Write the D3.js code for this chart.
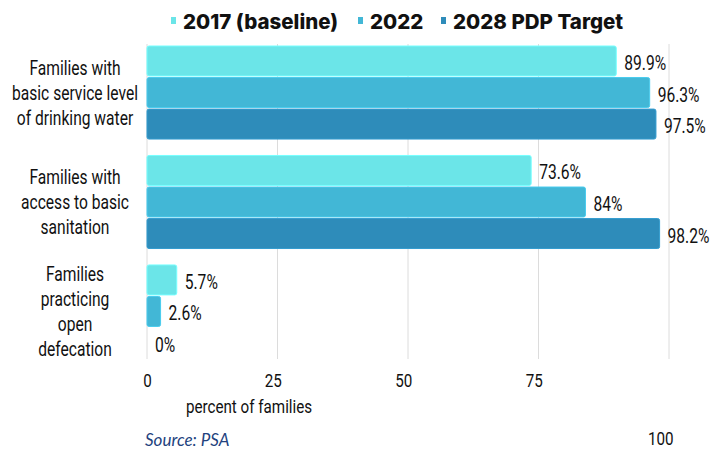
<!DOCTYPE html>
<html lang="en">
<head>
<meta charset="UTF-8">
<script src="https://d3js.org/d3.v7.min.js"></script>
<style>
  body { margin: 0; background: #fff; }
  svg text { fill: #111; }
  .cond { font-family: Roboto, "Liberation Sans", sans-serif; font-weight: 400; }
  .legend text { font-family: Inter, "Noto Sans", sans-serif; font-weight: 800; font-size: 20.5px; }
</style>
</head>
<body>
<svg id="chart" width="726" height="450"></svg>
<script>
  // data
  var categories = [
    ["Families with", "basic service level", "of drinking water"],
    ["Families with", "access to basic", "sanitation"],
    ["Families", "practicing", "open", "defecation"]
  ];
  var seriesNames = ["2017 (baseline)", "2022", "2028 PDP Target"];
  var v2017 = [89.9, 73.6, 5.7];
  var v2022 = [96.3, 84, 2.6];
  var v2028 = [97.5, 98.2, 0];
  var xTicks = [0, 25, 50, 75, 100];

  var colors = ["#6be5e8", "#42b7d6", "#2e8cba"];
  var values = [v2017, v2022, v2028];
  var squeeze = 0.8; // condensed look

  var svg = d3.select("#chart");

  var x = d3.scaleLinear().domain([0, 100]).range([147, 669]);
  var y0 = d3.scaleBand().domain(d3.range(categories.length)).range([46, 358]).paddingInner(0.15).paddingOuter(0);
  var y1 = d3.scaleBand().domain(d3.range(seriesNames.length)).range([0, y0.bandwidth()]).paddingInner(0.05);

  // narrow text helper
  function condText(parent, px, py, txt, size, anchor) {
    return parent.append("text")
      .attr("class", "cond")
      .attr("transform", "translate(" + px + "," + py + ") scale(" + squeeze + ",1)")
      .attr("font-size", size + "px")
      .attr("text-anchor", anchor || "start")
      .text(txt);
  }

  // gridlines
  svg.append("g").selectAll("line").data(xTicks).enter().append("line")
    .attr("x1", function(d) { return x(d); })
    .attr("x2", function(d) { return x(d); })
    .attr("y1", 44).attr("y2", 359)
    .attr("stroke", "#dcdcdc").attr("stroke-width", 1);

  // bars
  var groups = svg.append("g").selectAll("g").data(categories).enter().append("g")
    .attr("transform", function(d, i) { return "translate(0," + y0(i) + ")"; });

  groups.each(function(cat, ci) {
    var g = d3.select(this);
    seriesNames.forEach(function(s, si) {
      var val = values[si][ci];
      if (val > 0) {
        g.append("rect")
          .attr("x", x(0))
          .attr("y", y1(si))
          .attr("width", x(val) - x(0))
          .attr("height", y1.bandwidth())
          .attr("rx", 2)
          .attr("fill", colors[si])
          .attr("stroke", d3.color(colors[si]).brighter(0.3))
          .attr("stroke-width", 1);
      }
      condText(g, x(val) + 8, y1(si) + y1.bandwidth() / 2 + 9, val + "%", 19.5);
    });
  });

  // category labels
  categories.forEach(function(d, i) {
    var top = y0(i) + y0.bandwidth() / 2 - (d.length - 1) * 12.5 + 7;
    d.forEach(function(line, li) {
      condText(svg, 75, top + li * 25, line, 19.5, "middle");
    });
  });

  // x axis
  var xAxis = svg.append("g")
    .attr("transform", "translate(0,366)")
    .call(d3.axisBottom(x).tickValues(xTicks).tickSize(0).tickPadding(8));
  xAxis.select(".domain").remove();
  xAxis.selectAll("text")
    .attr("font-family", "Roboto, sans-serif")
    .attr("font-size", "19px")
    .attr("fill", "#111")
    .attr("transform", "scale(" + squeeze + ",1)")
    .attr("dx", function(d) { return d === 0 ? 0 : -6; });
  xAxis.selectAll(".tick").filter(function(d) { return d === 100; }).select("text")
    .attr("dx", -11)
    .attr("dy", "3.75em");

  condText(svg, 249, 413, "percent of families", 19, "middle");

  svg.append("text")
    .attr("x", 145).attr("y", 446)
    .attr("font-family", "Lato, sans-serif")
    .attr("font-style", "italic")
    .attr("font-size", "17px")
    .style("fill", "#23427e")
    .text("Source: PSA");

  // legend
  var legendX = [171, 358, 441];
  var legend = svg.append("g").attr("class", "legend");
  seriesNames.forEach(function(s, i) {
    legend.append("rect")
      .attr("x", legendX[i]).attr("y", 17)
      .attr("width", 5).attr("height", 7)
      .attr("fill", colors[i]);
    legend.append("text")
      .attr("x", legendX[i] + 12).attr("y", 28.5)
      .text(s);
  });
</script>
</body>
</html>
